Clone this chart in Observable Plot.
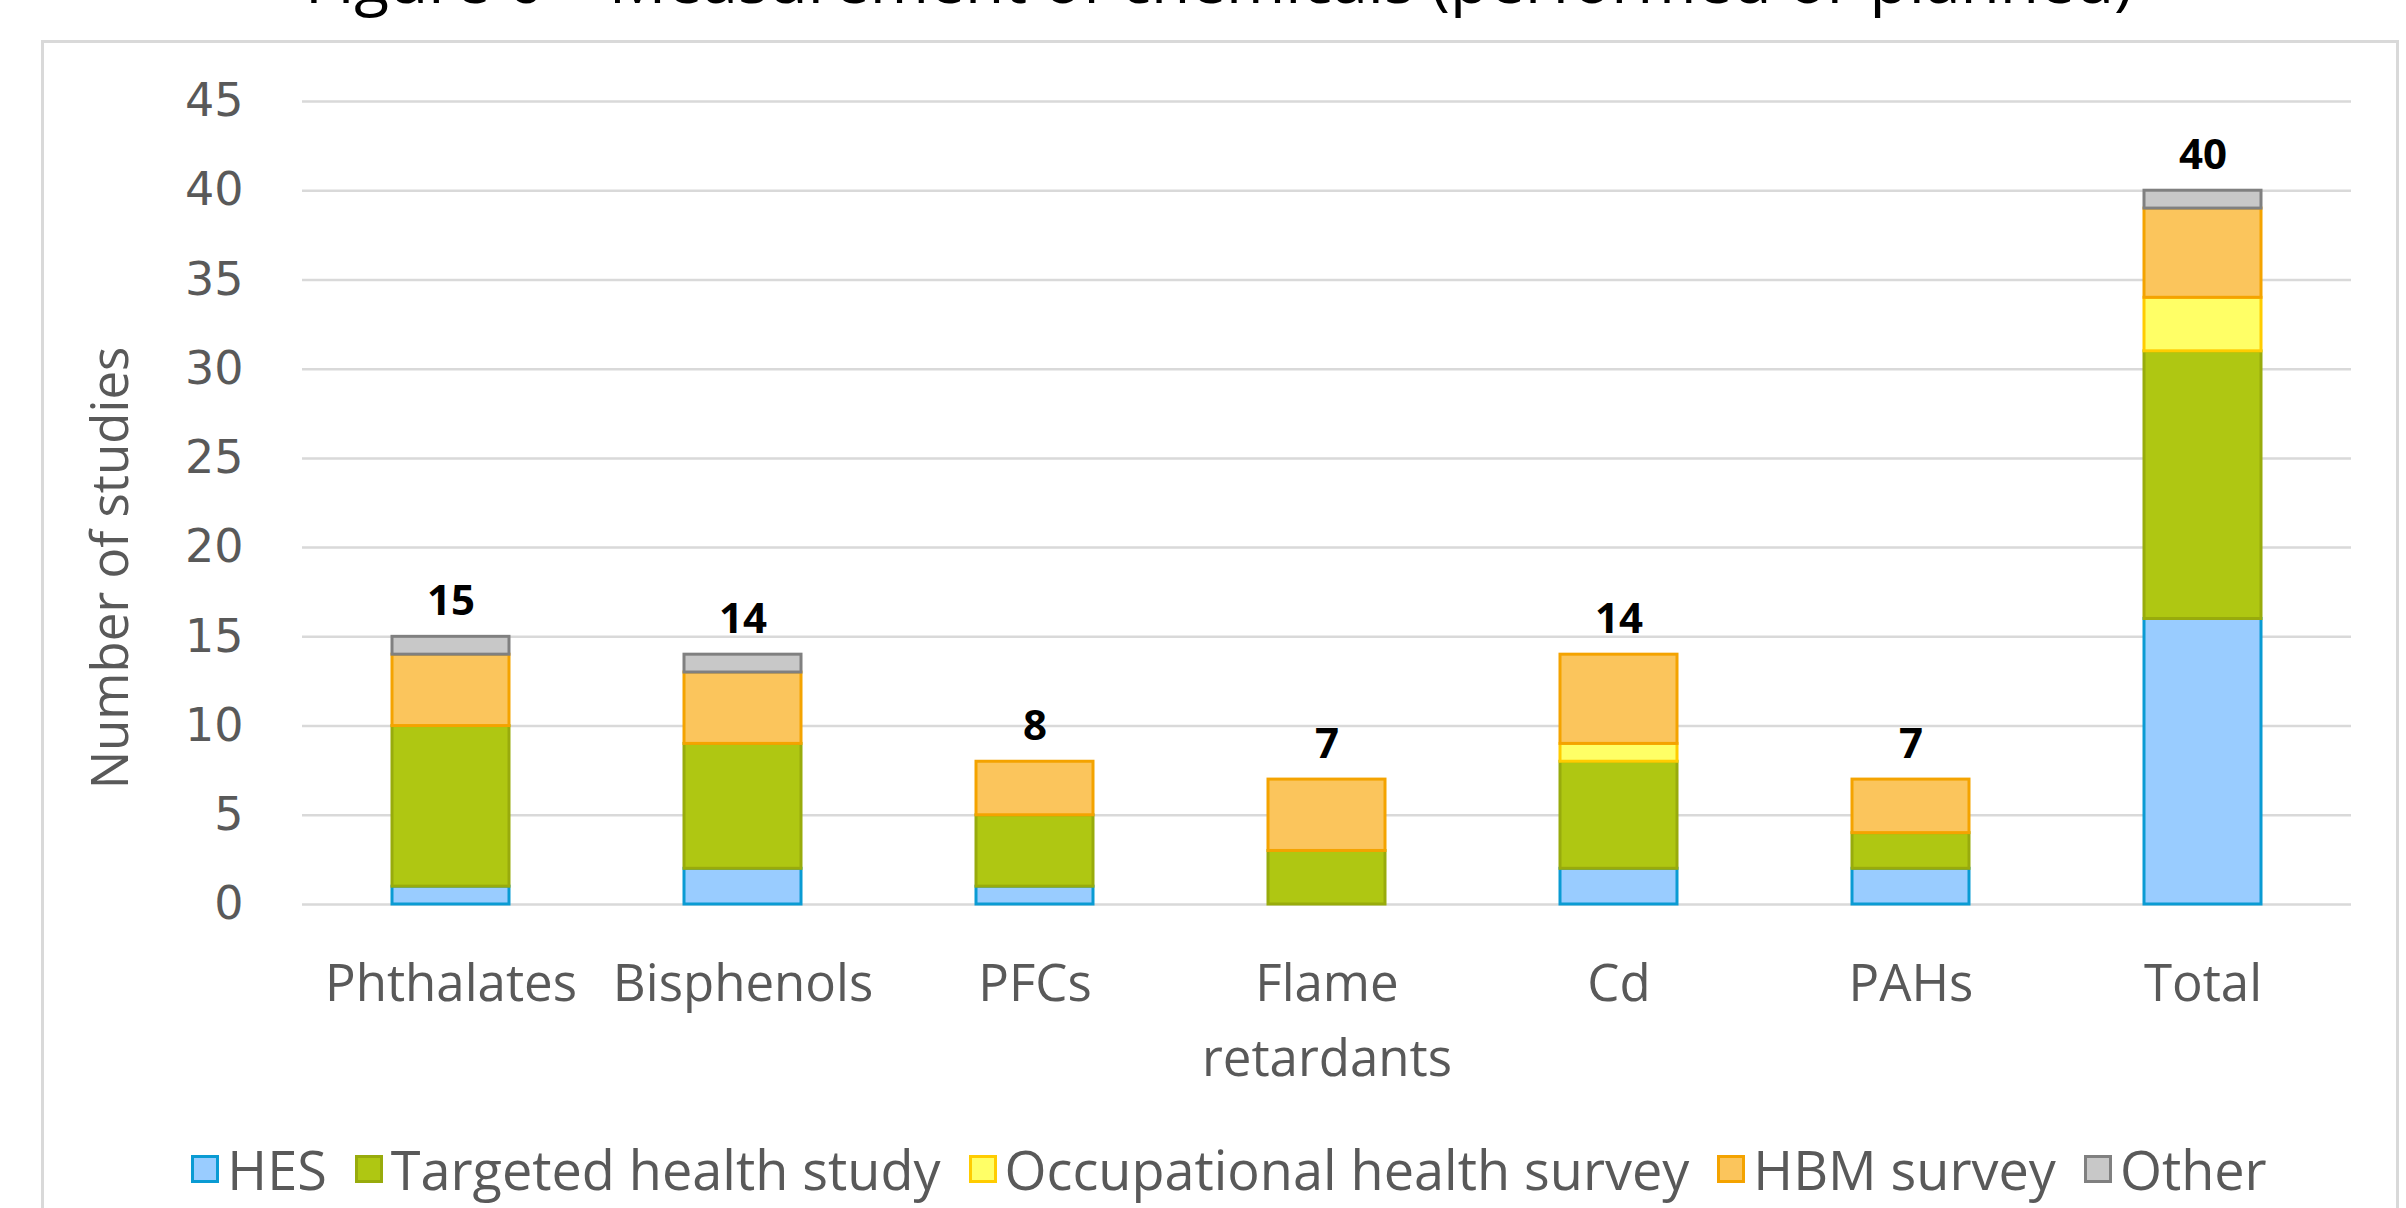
<!DOCTYPE html>
<html>
<head>
<meta charset="utf-8">
<script src="https://cdn.jsdelivr.net/npm/d3@7"></script>
<script src="https://cdn.jsdelivr.net/npm/@observablehq/plot@0.6"></script>
<style>
  html, body { margin: 0; padding: 0; background: #fff; }
  #page { position: relative; width: 2406px; height: 1208px; overflow: hidden; background: #fff; }
  #title { position: absolute; left: 41px; width: 2356px; top: -53px; text-align: center;
           font-family: "Open Sans", sans-serif; font-size: 64px; line-height: 1; color: #000; white-space: nowrap; }
  #frame { position: absolute; left: 41px; top: 40px; width: 2352px; height: 1300px;
           border: 3px solid #d9d9d9; box-sizing: content-box; }
  #chart { position: absolute; left: 0; top: 0; }
  #legend { position: absolute; left: 0; width: 2406px; top: 1134px; height: 70px;
            display: flex; justify-content: center; align-items: center; padding-left: 52px; box-sizing: border-box;
            font-family: "Open Sans", sans-serif; font-size: 54px; color: #595959; white-space: nowrap; }
  .item { display: flex; align-items: center; margin-right: 28px; }
  .item:last-child { margin-right: 0; }
  .sw { width: 28px; height: 28px; box-sizing: border-box; border: 3px solid; margin-right: 8px; }
</style>
</head>
<body>
<div id="page">
  <div id="title">Figure 6 – Measurement of chemicals (performed or planned)</div>
  <div id="frame"></div>
  <div id="chart"></div>
  <div id="legend"></div>
</div>
<script>
// ---- data ----
const categories = ["Phthalates", "Bisphenols", "PFCs", "Flame retardants", "Cd", "PAHs", "Total"];
const categoryLabels = ["Phthalates", "Bisphenols", "PFCs", "Flame\nretardants", "Cd", "PAHs", "Total"];
const seriesNames = ["HES", "Targeted health study", "Occupational health survey", "HBM survey", "Other"];
const hes          = [1, 2, 1, 0, 2, 2, 16];
const targeted     = [9, 7, 4, 3, 6, 2, 15];
const occupational = [0, 0, 0, 0, 1, 0, 3];
const hbm          = [4, 4, 3, 4, 5, 3, 5];
const other        = [1, 1, 0, 0, 0, 0, 1];
const yTicks = [0, 5, 10, 15, 20, 25, 30, 35, 40, 45];

const fills   = ["#99ccff", "#afc712", "#ffff66", "#fbc55c", "#c8c8c8"];
const strokes = ["#0a9bd3", "#98ab0c", "#ffcc00", "#f4a300", "#808080"];

// ---- table ----
const seriesValues = [hes, targeted, occupational, hbm, other];
const rows = [];
categories.forEach((c, i) => {
  seriesValues.forEach((vals, s) => {
    if (vals[i] > 0) rows.push({category: c, series: seriesNames[s], value: vals[i], fill: fills[s], stroke: strokes[s]});
  });
});
const totals = categories.map((c, i) => ({category: c, total: d3.sum(seriesValues, v => v[i])}));
const labelOf = new Map(categories.map((c, i) => [c, categoryLabels[i]]));

const chart = Plot.plot({
  width: 2406,
  height: 1100,
  marginLeft: 302,
  marginRight: 55,
  marginTop: 101,
  marginBottom: 196,
  style: {background: "transparent", overflow: "visible"},
  x: {domain: categories, paddingInner: 0.6, paddingOuter: 0.3},
  y: {domain: [0, 45]},
  marks: [
    Plot.gridY(yTicks, {stroke: "#d9d9d9", strokeOpacity: 1, strokeWidth: 2.5}),
    Plot.axisY({ticks: yTicks, tickSize: 0, tickPadding: 59, fontSize: 46, fontFamily: "DejaVu Sans", color: "#595959", label: null}),
    Plot.axisX({tickSize: 0, tickPadding: 44, fontSize: 51, fontFamily: "Open Sans", color: "#595959", lineHeight: 1.46,
                tickFormat: d => labelOf.get(d), label: null}),
    Plot.barY(rows, Plot.stackY({x: "category", y: "value", fill: "fill", stroke: "stroke", strokeWidth: 3, order: null})),
    Plot.text(totals, {x: "category", y: "total", text: d => String(d.total), dy: -35, fontSize: 42,
                       fontWeight: "bold", fontFamily: "Open Sans", fill: "#000"}),
    Plot.text(["Number of studies"], {frameAnchor: "left", textAnchor: "middle", text: d => d, rotate: -90, dx: -191, dy: 65,
                       fontSize: 51, fontFamily: "Open Sans", fill: "#595959"})
  ]
});
document.getElementById("chart").appendChild(chart);

// ---- legend ----
const legend = document.getElementById("legend");
seriesNames.forEach((name, s) => {
  const item = document.createElement("div");
  item.className = "item";
  const sw = document.createElement("div");
  sw.className = "sw";
  sw.style.background = fills[s];
  sw.style.borderColor = strokes[s];
  const t = document.createElement("span");
  t.textContent = name;
  item.appendChild(sw);
  item.appendChild(t);
  legend.appendChild(item);
});
</script>
</body>
</html>
